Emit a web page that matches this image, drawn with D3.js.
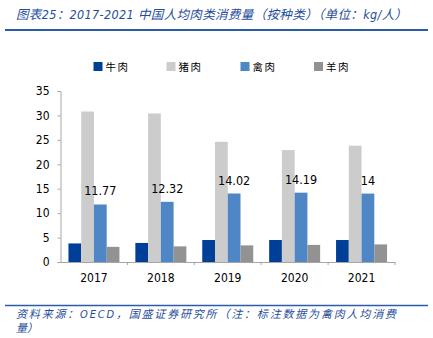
<!DOCTYPE html>
<html>
<head>
<meta charset="utf-8">
<script src="https://cdn.jsdelivr.net/npm/d3@7"></script>
<style>
  body { margin: 0; background: #fff; }
  svg { display: block; }
  text { font-family: "DejaVu Sans Condensed", "DejaVu Sans", "Noto Sans CJK SC", sans-serif; }
</style>
</head>
<body>
<div id="chart"></div>
<script>
// yearly per-capita consumption, kg/person
var years = ["2017", "2018", "2019", "2020", "2021"];
var seriesNames = ["牛肉", "猪肉", "禽肉", "羊肉"];
var beef = [3.8, 3.9, 4.5, 4.5, 4.5];
var pork = [30.8, 30.4, 24.6, 22.9, 23.8];
var poultry = [11.77, 12.32, 14.02, 14.19, 14];
var mutton = [3.1, 3.2, 3.4, 3.5, 3.6];
var poultryLabels = ["11.77", "12.32", "14.02", "14.19", "14"];
var yTicks = [0, 5, 10, 15, 20, 25, 30, 35];

var colors = ["#003f98", "#cccccc", "#4f86c6", "#929292"];
var values = [beef, pork, poultry, mutton];

var w = 433, h = 338;
var svg = d3.select("#chart").append("svg")
    .attr("width", w)
    .attr("height", h);

var titleBlue = "#1f4e9c";

// title + rule
svg.append("text")
    .attr("x", 16)
    .attr("y", 19)
    .attr("fill", titleBlue)
    .attr("textLength", 391)
    .style("font-style", "italic")
    .style("font-size", "12.5px")
    .text("图表25：2017-2021 中国人均肉类消费量（按种类）（单位：kg/人）");

svg.append("line")
    .attr("x1", 5).attr("x2", 428)
    .attr("y1", 30).attr("y2", 30)
    .attr("stroke", "#2a5caa")
    .attr("stroke-width", 2);

// scales
var xScale = d3.scaleBand()
    .domain(years)
    .range([60.5, 395]);

var groupW = 51;
var barScale = d3.scaleBand()
    .domain(d3.range(4))
    .range([0, groupW]);

var yScale = d3.scaleLinear()
    .domain([0, 35])
    .range([262, 91]);

// y axis
var yAxis = d3.axisLeft(yScale)
    .tickValues(yTicks)
    .tickSize(3)
    .tickPadding(8);

var gy = svg.append("g")
    .attr("transform", "translate(60.5,0)")
    .call(yAxis);
gy.select(".domain").attr("stroke", "#a6a6a6");
gy.selectAll(".tick line").attr("stroke", "#a6a6a6");
gy.selectAll(".tick text")
    .attr("fill", "#000")
    .style("font-size", "12px");

// bars
var bars = svg.append("g");
years.forEach(function (yr, i) {
    var x0 = xScale(yr) + (xScale.bandwidth() - groupW) / 2;
    values.forEach(function (arr, s) {
        bars.append("rect")
            .attr("x", x0 + barScale(s))
            .attr("y", yScale(arr[i]))
            .attr("width", barScale.bandwidth())
            .attr("height", yScale(0) - yScale(arr[i]))
            .attr("fill", colors[s]);
    });
    // poultry value label
    svg.append("text")
        .attr("x", x0 + barScale(2) + barScale.bandwidth() / 2)
        .attr("y", yScale(poultry[i]) - 9)
        .attr("text-anchor", "middle")
        .style("font-size", "12.5px")
        .attr("fill", "#000")
        .text(poultryLabels[i]);
});

// x axis
var xAxis = d3.axisBottom(xScale)
    .tickSize(0)
    .tickPadding(11);

var gx = svg.append("g")
    .attr("transform", "translate(0,262)")
    .call(xAxis);
gx.select(".domain").attr("stroke", "#a6a6a6");
gx.selectAll(".tick text")
    .attr("fill", "#000")
    .style("font-size", "12px");

// tick marks sit between the groups
svg.append("g").selectAll("line")
    .data(years)
    .enter().append("line")
    .attr("x1", function (d) { return xScale(d) + xScale.bandwidth(); })
    .attr("x2", function (d) { return xScale(d) + xScale.bandwidth(); })
    .attr("y1", 262)
    .attr("y2", 265)
    .attr("stroke", "#a6a6a6");

// legend
var legendX = [93.5, 166.5, 240.5, 314];
var legend = svg.append("g").selectAll("g")
    .data(seriesNames)
    .enter().append("g")
    .attr("transform", function (d, i) { return "translate(" + legendX[i] + ",62)"; });

legend.append("rect")
    .attr("width", 9)
    .attr("height", 9)
    .attr("fill", function (d, i) { return colors[i]; });

legend.append("text")
    .attr("x", 12)
    .attr("y", 8.5)
    .style("font-size", "10.5px")
    .style("letter-spacing", "1.5px")
    .attr("fill", "#000")
    .text(function (d) { return d; });

// footer
svg.append("line")
    .attr("x1", 5).attr("x2", 428)
    .attr("y1", 305.5).attr("y2", 305.5)
    .attr("stroke", "#2a5caa")
    .attr("stroke-width", 1.5);

svg.append("text")
    .attr("x", 16)
    .attr("y", 318)
    .attr("textLength", 380)
    .attr("fill", titleBlue)
    .style("font-style", "italic")
    .style("font-size", "11px")
    .text("资料来源：OECD，国盛证券研究所（注：标注数据为禽肉人均消费");
svg.append("text")
    .attr("x", 16)
    .attr("y", 332)
    .attr("fill", titleBlue)
    .style("font-style", "italic")
    .style("font-size", "11px")
    .text("量）");
</script>
</body>
</html>
